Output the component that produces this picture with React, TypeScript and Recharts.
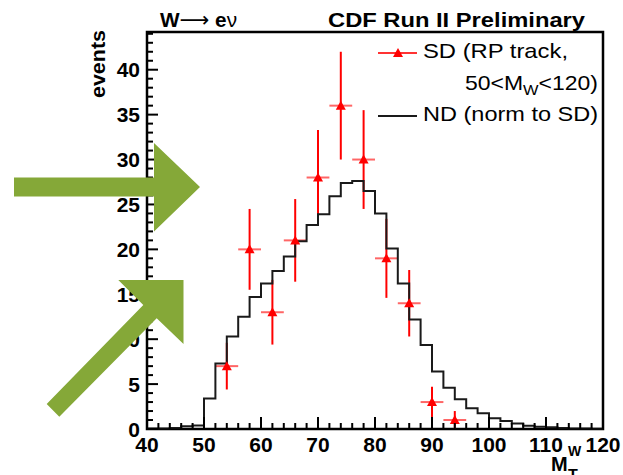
import React from "react";
import {
  ComposedChart,
  Line,
  Scatter,
  ErrorBar,
  XAxis,
  YAxis,
  ReferenceArea,
} from "recharts";

// ND histogram: lower bin edges (width 2) and contents
const binLow = [
  40, 42, 44, 46, 48, 50, 52, 54, 56, 58, 60, 62, 64, 66, 68, 70, 72, 74, 76, 78,
  80, 82, 84, 86, 88, 90, 92, 94, 96, 98, 100, 102, 104, 106, 108, 110, 112, 114, 116, 118, 120,
];
const ndValues = [
  0.05, 0.05, 0.1, 0.3, 0.4, 3.4, 7.3, 10.3, 12.5, 14.7, 16.2, 17.6, 19.2, 20.9, 22.7, 23.9,
  25.9, 27.4, 27.6, 26.5, 24.0, 20.1, 16.2, 12.2, 9.35, 6.4, 4.6, 3.3, 2.3, 1.75, 1.2, 0.9,
  0.6, 0.35, 0.25, 0.2, 0.1, 0.05, 0.05, 0.02, 0.02,
];

// SD points
const sdX = [54, 58, 62, 66, 70, 74, 78, 82, 86, 90, 94];
const sdY = [7, 20, 13, 21, 28, 36, 30, 19, 14, 3, 1];
const sdErrY = [2.6, 4.5, 3.6, 4.6, 5.3, 6.0, 5.5, 4.4, 3.7, 1.7, 1.0];
const sdErrX = [2, 2, 2, 2, 2, 2, 2, 2, 2, 2, 2];

// axis ticks
const xMajor = [40, 50, 60, 70, 80, 90, 100, 110, 120];
const xMinor = [
  42, 44, 46, 48, 52, 54, 56, 58, 62, 64, 66, 68, 72, 74, 76, 78, 82, 84, 86, 88,
  92, 94, 96, 98, 102, 104, 106, 108, 112, 114, 116, 118,
];
const yMajor = [0, 5, 10, 15, 20, 25, 30, 35, 40];
const yMinor = [
  1, 2, 3, 4, 6, 7, 8, 9, 11, 12, 13, 14, 16, 17, 18, 19, 21, 22, 23, 24, 26, 27, 28, 29,
  31, 32, 33, 34, 36, 37, 38, 39, 41, 42, 43, 44,
];

const ndData = binLow.map((x, i) => ({ x, nd: ndValues[i] }));
const sdData = sdX.map((x, i) => ({ x, y: sdY[i], ey: sdErrY[i], ex: sdErrX[i] }));

const X_MIN = 40;
const X_MAX = 120;
const Y_MAX = 44.2;

// chart geometry (plot box = margins + axis sizes)
const W = 623;
const H = 475;
const M = { top: 32, right: 20, bottom: 6, left: 87 };
const Y_AXIS_W = 60;
const X_AXIS_H = 40;
const PLOT_L = M.left + Y_AXIS_W;
const PLOT_B = H - M.bottom - X_AXIS_H;
const PLOT_W = W - PLOT_L - M.right;
const PLOT_H = PLOT_B - M.top;
const px = (v: number) => PLOT_L + ((v - X_MIN) / (X_MAX - X_MIN)) * PLOT_W;
const py = (v: number) => PLOT_B - (v / Y_MAX) * PLOT_H;

const FONT = '"Liberation Sans", Arial, sans-serif';
const RED = "#ff0000";
const GREEN = "#85a838";

function XTick(props: any) {
  const { x, y, payload } = props;
  return (
    <text x={x} y={y + 23} textAnchor="middle" fontFamily={FONT} fontWeight="bold" fontSize={21} fill="#000">
      {payload.value}
    </text>
  );
}

function YTick(props: any) {
  const { x, y, payload } = props;
  return (
    <text x={x - 7} y={y + 7.5} textAnchor="end" fontFamily={FONT} fontWeight="bold" fontSize={21} fill="#000">
      {payload.value}
    </text>
  );
}

function Triangle(props: any) {
  const { cx, cy } = props;
  return <polygon points={`${cx - 5},${cy + 4} ${cx + 5},${cy + 4} ${cx},${cy - 5}`} fill={RED} />;
}

export default function App() {
  return (
    <div style={{ position: "absolute", left: 0, top: 0, width: W, height: H, background: "#fff" }}>
      <ComposedChart width={W} height={H} margin={M}>
        <XAxis
          type="number"
          dataKey="x"
          domain={[X_MIN, X_MAX]}
          ticks={xMajor}
          interval={0}
          tickSize={0}
          tickMargin={0}
          tickLine={false}
          tick={<XTick />}
          stroke="#000"
          height={X_AXIS_H}
        />
        <YAxis
          type="number"
          domain={[0, Y_MAX]}
          ticks={yMajor}
          interval={0}
          tickSize={0}
          tickMargin={0}
          tickLine={false}
          tick={<YTick />}
          stroke="#000"
          width={Y_AXIS_W}
        />
        <ReferenceArea x1={X_MIN} x2={X_MAX} y1={0} y2={Y_MAX} fill="none" stroke="#000" strokeWidth={2.5} />
        <Scatter data={sdData} dataKey="y" shape={<Triangle />} isAnimationActive={false}>
          <ErrorBar dataKey="ey" direction="y" width={0} stroke={RED} strokeWidth={2} />
          <ErrorBar dataKey="ex" direction="x" width={0} stroke={RED} strokeOpacity={0.6} strokeWidth={2} />
        </Scatter>
        <Line
          data={ndData}
          dataKey="nd"
          type="stepAfter"
          stroke="#1a1a1a"
          strokeWidth={2}
          dot={false}
          activeDot={false}
          isAnimationActive={false}
        />
      </ComposedChart>
      <svg
        width={W}
        height={H}
        style={{ position: "absolute", left: 0, top: 0, pointerEvents: "none" }}
        fontFamily={FONT}
      >
        {/* inward ROOT-style tick marks */}
        {[...xMajor, ...xMinor].map((v) => (
          <line
            key={`xt${v}`}
            x1={px(v)}
            x2={px(v)}
            y1={PLOT_B}
            y2={PLOT_B - (xMajor.includes(v) ? 12 : 6)}
            stroke="#000"
            strokeWidth={2}
          />
        ))}
        {[...yMajor, ...yMinor].map((v) => (
          <line
            key={`yt${v}`}
            x1={PLOT_L}
            x2={PLOT_L + (yMajor.includes(v) ? 11 : 6)}
            y1={py(v)}
            y2={py(v)}
            stroke="#000"
            strokeWidth={2}
          />
        ))}
        <text x={160} y={27} fontWeight="bold" fontSize={21} textLength={77} lengthAdjust="spacingAndGlyphs">
          W<tspan fontFamily="DejaVu Sans" fontWeight="normal">⟶</tspan> e<tspan fontWeight="normal">ν</tspan>
        </text>
        <text x={328} y={27} fontWeight="bold" fontSize={21} textLength={257} lengthAdjust="spacingAndGlyphs">
          CDF Run II Preliminary
        </text>
        {/* legend */}
        <line x1={378} x2={417} y1={53} y2={53} stroke={RED} strokeWidth={2} strokeOpacity={0.8} />
        <polygon points="393,57 403,57 398,48" fill={RED} />
        <text x={423} y={58} fontSize={21} textLength={145} lengthAdjust="spacingAndGlyphs">
          SD (RP track,
        </text>
        <text x={465} y={90} fontSize={21} textLength={133} lengthAdjust="spacingAndGlyphs">
          <tspan>50&lt;M</tspan>
          <tspan fontSize={15} dy={5}>W</tspan>
          <tspan dy={-5}>&lt;120)</tspan>
        </text>
        <line x1={378} x2={417} y1={116} y2={116} stroke="#1a1a1a" strokeWidth={2} />
        <text x={423} y={121} fontSize={21} textLength={175} lengthAdjust="spacingAndGlyphs">
          ND (norm to SD)
        </text>
        {/* axis titles */}
        <text
          x={105}
          y={98}
          transform="rotate(-90 105 98)"
          fontWeight="bold"
          fontSize={20}
          textLength={68}
          lengthAdjust="spacingAndGlyphs"
        >
          events
        </text>
        <text x={551} y={471} fontWeight="bold" fontSize={20}>M</text>
        <text x={568} y={456} fontWeight="bold" fontSize={14}>W</text>
        <text x={568} y={481} fontWeight="bold" fontSize={16}>T</text>
        {/* annotation arrows */}
        <polygon
          points="14,177.5 154,177.5 154,143 200,187 154,231.5 154,196.5 14,196.5"
          fill={GREEN}
        />
        <polygon
          points="46.7,404 143.3,305 118.3,280 183.5,280 183.5,344 156.7,318.3 59.3,416.7"
          fill={GREEN}
        />
      </svg>
    </div>
  );
}
